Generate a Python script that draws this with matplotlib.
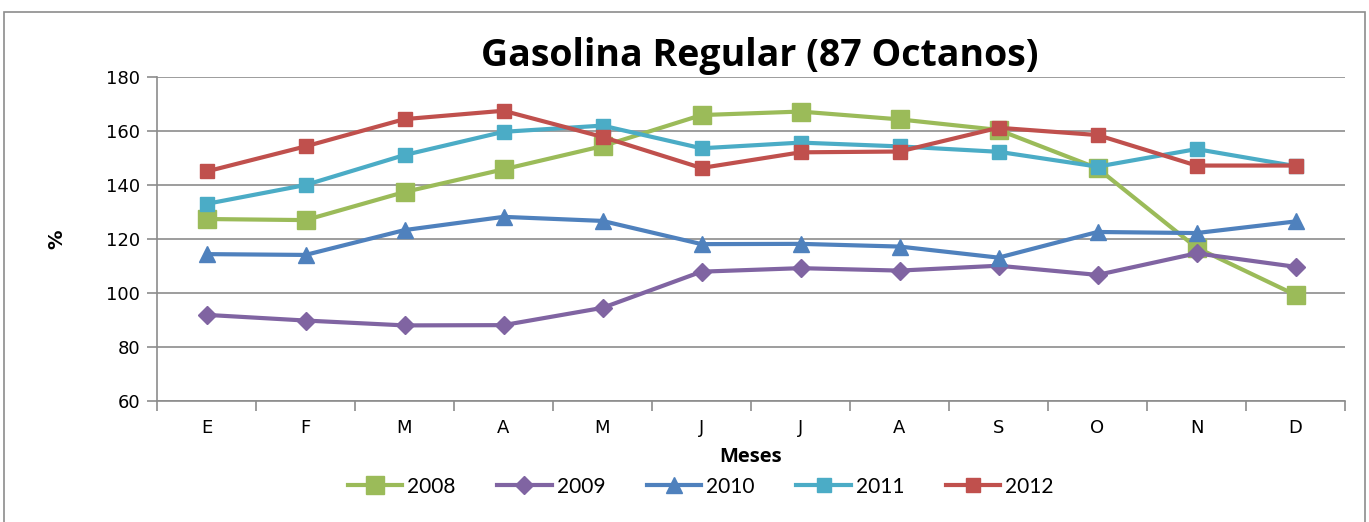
import matplotlib
matplotlib.use("Agg")
import matplotlib.pyplot as plt
from matplotlib.patches import Rectangle

months = ["E", "F", "M", "A", "M", "J", "J", "A", "S", "O", "N", "D"]
y2008 = [127.4, 127.0, 137.4, 145.8, 154.4, 165.9, 167.2, 164.3, 160.4, 146.2, 116.8, 99.3]
y2009 = [91.9, 89.8, 88.0, 88.1, 94.5, 107.9, 109.2, 108.3, 110.1, 106.7, 114.7, 109.7]
y2010 = [114.4, 114.1, 123.3, 128.2, 126.7, 118.1, 118.2, 117.2, 113.1, 122.6, 122.2, 126.5]
y2011 = [133.0, 140.0, 151.1, 159.7, 162.0, 153.6, 155.7, 154.3, 152.3, 146.8, 153.3, 147.0]
y2012 = [145.0, 154.3, 164.4, 167.5, 157.8, 146.3, 152.1, 152.4, 161.2, 158.5, 147.2, 147.2]

series = [
    ("2008", y2008, "#9BBB59", "s", 13),
    ("2009", y2009, "#8064A2", "D", 9),
    ("2010", y2010, "#4F81BD", "^", 11),
    ("2011", y2011, "#4BACC6", "s", 10),
    ("2012", y2012, "#C0504D", "s", 10),
]

fig = plt.figure(figsize=(13.69, 5.22), dpi=100)
fig.patches.append(Rectangle((4 / 1369, -0.05), 1361 / 1369, 1.05 - 12 / 522,
                             transform=fig.transFigure, fill=False,
                             edgecolor="#8c8c8c", lw=1.2))
ax = fig.add_axes([157 / 1369, 121 / 522, 1188 / 1369, 324 / 522])

x = list(range(len(months)))
for name, vals, col, mk, ms in series:
    ax.plot(x, vals, color=col, lw=3.0, marker=mk, markersize=ms,
            markeredgecolor=col, label=name)

ax.set_xlim(-0.5, 11.5)
ax.set_ylim(60, 180)
ax.set_yticks(range(60, 181, 20))
ax.set_xticks(x)
ax.set_xticklabels(months, fontsize=13)
ax.set_xticks([i - 0.5 for i in range(13)], minor=True)
ax.tick_params(axis="x", which="major", length=0, pad=13)
ax.tick_params(axis="x", which="minor", length=7, color="#8c8c8c", width=1.2, direction="out")
ax.tick_params(axis="y", length=7, color="#8c8c8c", width=1.2, labelsize=13, pad=5)
ax.grid(axis="y", color="#8c8c8c", lw=1.2)
ax.set_axisbelow(True)
for s in ["top", "right"]:
    ax.spines[s].set_visible(False)
for s in ["left", "bottom"]:
    ax.spines[s].set_color("#8c8c8c")
    ax.spines[s].set_linewidth(1.2)

fig.text(0.555, 0.893, "Gasolina Regular (87 Octanos)", ha="center", va="center",
         fontsize=27, fontweight="bold", family="Open Sans")
ax.set_xlabel("Meses", fontsize=14.5, fontweight="bold", family="Open Sans", labelpad=7)
ax.set_ylabel("%", fontsize=14, fontweight="bold", labelpad=29)

fig.legend(loc="center", bbox_to_anchor=(0.512, 0.068), ncol=5, frameon=False,
           handlelength=2.6, columnspacing=2.0, handletextpad=0.25,
           prop={"family": "Lato", "size": 15})

fig.savefig("out.png", dpi=100)
